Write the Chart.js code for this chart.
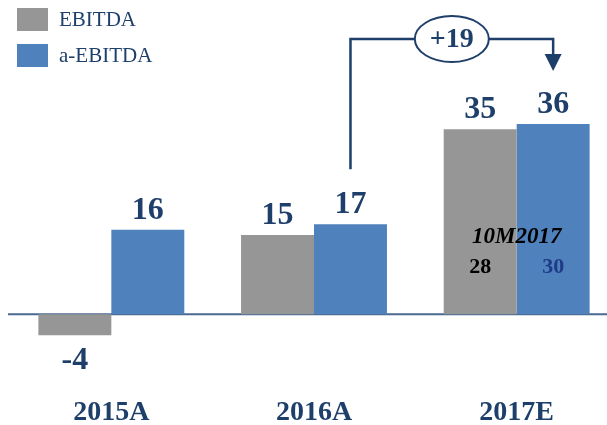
<!DOCTYPE html>
<html>
<head>
<meta charset="utf-8">
<script src="https://cdn.jsdelivr.net/npm/chart.js@4.4.1/dist/chart.umd.min.js"></script>
<style>
html,body{margin:0;padding:0;background:#fff;overflow:hidden;width:607px;height:425px;}
#wrap{position:relative;width:618px;height:425px;}
</style>
</head>
<body>
<div id="wrap"><canvas id="c" width="618" height="425"></canvas></div>
<script>
const categories = ["2015A", "2016A", "2017E"];
const ebitda = [-4, 15, 35];
const aEbitda = [16, 17, 36];
const seriesNames = ["EBITDA", "a-EBITDA"];
const growthLabel = "+19";
const ytdLabel = "10M2017";
const ytdValues = [28, 30];

const NAVY = "#1f3f6b";
const GRAY = "#969696";
const BLUE = "#4f81bd";
const SERIF = "'Liberation Serif', 'DejaVu Serif', serif";

const overlay = {
  id: "overlay",
  beforeDatasetsDraw(chart) {
    const ctx = chart.ctx, y = chart.scales.y;
    const y0 = y.getPixelForValue(0);
    ctx.save();
    ctx.strokeStyle = "#4a6891";
    ctx.lineWidth = 2;
    ctx.beginPath();
    ctx.moveTo(8, y0);
    ctx.lineTo(chart.width, y0);
    ctx.stroke();
    ctx.restore();
  },
  afterDatasetsDraw(chart) {
    const ctx = chart.ctx;
    const m0 = chart.getDatasetMeta(0), m1 = chart.getDatasetMeta(1);
    ctx.save();
    ctx.textAlign = "center";
    ctx.textBaseline = "alphabetic";
    ctx.font = "bold 32px " + SERIF;
    ctx.fillStyle = NAVY;
    [m0, m1].forEach((m, di) => {
      const vals = di === 0 ? ebitda : aEbitda;
      m.data.forEach((bar, i) => {
        const v = vals[i];
        const ty = v >= 0 ? bar.y - 11 : bar.y + 34;
        ctx.fillText(String(v), bar.x, ty);
      });
    });
    // 10M2017 annotation inside 2017E bars
    const g = m0.data[2], b = m1.data[2];
    const cx = (g.x + b.x) / 2;
    ctx.font = "italic bold 23px " + SERIF;
    ctx.fillStyle = "#000";
    ctx.fillText(ytdLabel, cx, 243);
    ctx.font = "bold 22px " + SERIF;
    ctx.fillStyle = "#000";
    ctx.fillText(String(ytdValues[0]), g.x, 273);
    ctx.fillStyle = "#1f3a86";
    ctx.fillText(String(ytdValues[1]), b.x, 273);

    // growth bracket arrow
    const from = m1.data[1], to = m1.data[2];
    const topY = chart.chartArea.top - 11;
    const midX = (from.x + to.x) / 2;
    ctx.strokeStyle = NAVY;
    ctx.fillStyle = NAVY;
    ctx.lineWidth = 2.5;
    ctx.beginPath();
    ctx.moveTo(from.x, from.y - 55);
    ctx.lineTo(from.x, topY);
    ctx.lineTo(to.x, topY);
    ctx.lineTo(to.x, topY + 16);
    ctx.stroke();
    ctx.beginPath();
    ctx.moveTo(to.x - 8.5, topY + 15);
    ctx.lineTo(to.x + 8.5, topY + 15);
    ctx.lineTo(to.x, topY + 32);
    ctx.closePath();
    ctx.fill();
    // ellipse
    ctx.beginPath();
    ctx.ellipse(midX, topY, 37, 23, 0, 0, Math.PI * 2);
    ctx.fillStyle = "#fff";
    ctx.fill();
    ctx.lineWidth = 2;
    ctx.stroke();
    ctx.fillStyle = NAVY;
    ctx.font = "bold 28px " + SERIF;
    ctx.textBaseline = "middle";
    ctx.fillText(growthLabel, midX, topY + 1);
    ctx.restore();
  },
  afterDraw(chart) {
    const ctx = chart.ctx;
    ctx.save();
    ctx.font = "21px " + SERIF;
    ctx.textBaseline = "middle";
    ctx.textAlign = "left";
    chart.data.datasets.forEach((ds, i) => {
      const top = 8 + i * 36;
      ctx.fillStyle = ds.backgroundColor;
      ctx.fillRect(17, top, 31, 23);
      ctx.fillStyle = NAVY;
      ctx.fillText(ds.label, 59, top + 12);
    });
    ctx.restore();
  }
};

new Chart(document.getElementById("c"), {
  type: "bar",
  data: {
    labels: categories,
    datasets: [
      { label: seriesNames[0], data: ebitda, backgroundColor: GRAY },
      { label: seriesNames[1], data: aEbitda, backgroundColor: BLUE }
    ]
  },
  options: {
    responsive: false,
    animation: false,
    devicePixelRatio: 1,
    layout: { padding: { left: 10, right: 0, top: 50, bottom: 0 } },
    datasets: { bar: { barPercentage: 1, categoryPercentage: 0.72 } },
    plugins: { legend: { display: false }, tooltip: { enabled: false } },
    scales: {
      x: {
        grid: { display: false, drawTicks: false },
        border: { display: false },
        ticks: { color: NAVY, font: { family: SERIF, size: 28, weight: "bold" }, padding: 29, maxRotation: 0 },
        afterFit(scale) { scale.height = 58; }
      },
      y: { display: false, min: -10, max: 50 }
    }
  },
  plugins: [overlay]
});
</script>
</body>
</html>
